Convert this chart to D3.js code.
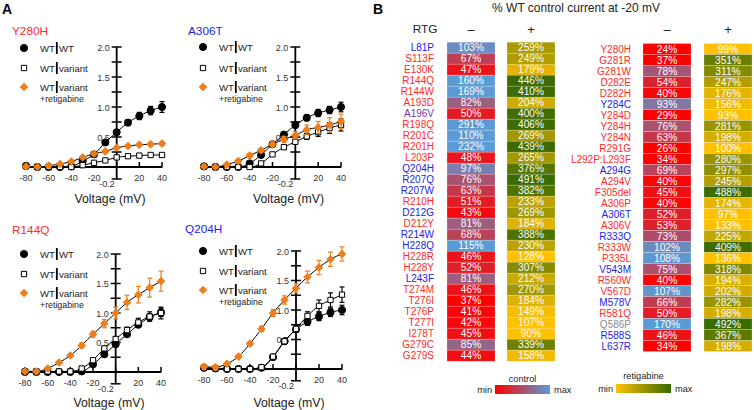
<!DOCTYPE html>
<html><head><meta charset="utf-8">
<script src="https://cdn.jsdelivr.net/npm/d3@7"></script>
<style>body{margin:0;background:#fff}svg{display:block;font-family:"Liberation Sans",Arial,sans-serif}</style>
</head><body><svg id="c" width="754" height="410"></svg>
<script>
// ---------- DATA ----------
const voltages = [-80,-70,-60,-50,-40,-30,-20,-10,0,10,20,30,40];
const xTicks = [-80,-60,-40,-20,0,20,40];
const yTickLabels = [0.5,1.0,1.5,2.0];

const y280h_wt  = [0.02,0.0,0.0,0.0,0.01,0.1,0.21,0.41,0.58,0.74,0.85,0.94,1.0];
const y280h_wtE = [0,0,0,0,0,0.01,0.02,0.03,0.04,0.05,0.06,0.07,0.09];
const y280h_var = [0.01,0.0,0.0,0.0,0.0,0.03,0.07,0.11,0.16,0.18,0.19,0.2,0.2];
const y280h_varE= [0,0,0,0,0,0,0.01,0.01,0.01,0.015,0.015,0.02,0.02];
const y280h_rtg = [0.01,0.0,0.02,0.05,0.09,0.16,0.22,0.26,0.32,0.35,0.37,0.38,0.39];
const y280h_rtgE= [0,0,0,0.01,0.01,0.015,0.02,0.02,0.02,0.025,0.025,0.03,0.03];

const a306t_wt  = [0.01,0.0,0.0,0.0,0.06,0.2,0.38,0.54,0.7,0.82,0.9,0.95,1.0];
const a306t_wtE = [0,0,0,0,0,0.01,0.02,0.03,0.05,0.05,0.06,0.06,0.08];
const a306t_var = [0.01,0.0,0.0,0.0,0.0,0.06,0.21,0.33,0.42,0.51,0.58,0.65,0.7];
const a306t_varE= [0,0,0,0,0,0.01,0.02,0.03,0.04,0.05,0.07,0.09,0.1];
const a306t_rtg = [0.01,0.0,0.04,0.1,0.19,0.28,0.38,0.46,0.53,0.62,0.66,0.7,0.76];
const a306t_rtgE= [0,0,0.01,0.01,0.02,0.03,0.04,0.05,0.06,0.08,0.1,0.12,0.12];

const r144q_wt  = [0.0,0.0,0.0,0.0,0.0,0.01,0.13,0.3,0.47,0.64,0.8,0.93,1.01];
const r144q_wtE = [0,0,0,0,0,0,0.01,0.02,0.03,0.03,0.04,0.06,0.07];
const r144q_var = [0.01,0.01,0.01,0.01,0.01,0.06,0.2,0.4,0.56,0.71,0.84,0.94,1.0];
const r144q_varE= [0,0,0,0,0,0.01,0.02,0.03,0.04,0.05,0.07,0.08,0.1];
const r144q_rtg = [0.01,0.01,0.06,0.16,0.28,0.45,0.64,0.82,1.0,1.18,1.31,1.43,1.54];
const r144q_rtgE= [0,0,0.01,0.02,0.03,0.04,0.05,0.07,0.1,0.12,0.14,0.16,0.17];

const q204h_wt  = [0.02,0.01,0.0,0.0,0.0,0.02,0.2,0.47,0.67,0.8,0.89,0.96,1.0];
const q204h_wtE = [0,0,0,0,0,0,0.01,0.03,0.04,0.06,0.07,0.07,0.08];
const q204h_var = [0.02,0.01,0.0,0.0,0.0,0.03,0.21,0.47,0.68,0.9,1.07,1.17,1.26];
const q204h_varE= [0,0,0,0,0,0.01,0.02,0.03,0.05,0.07,0.1,0.12,0.13];
const q204h_rtg = [0.04,0.03,0.09,0.21,0.43,0.68,0.95,1.17,1.37,1.56,1.72,1.86,1.95];
const q204h_rtgE= [0.01,0.01,0.01,0.02,0.03,0.04,0.06,0.07,0.08,0.1,0.12,0.12,0.12];

const legendLabels = ["WT|WT","WT|variant","WT|variant"];

// Heatmap
const leftVariants = ["L81P","S113F","E130K","R144Q","R144W","A193D","A196V","R198Q","R201C","R201H","L203P","Q204H","R207Q","R207W","R210H","D212G","D212Y","R214W","H228Q","H228R","H228Y","L243F","T274M","T276I","T276P","T277I","I278T","G279C","G279S"];
const leftGroup = ["b","r","r","r","r","r","p","r","r","r","r","b","b","b","r","b","r","b","b","r","r","b","r","r","r","r","r","r","r"];
const leftControl = [103,67,47,160,169,82,50,291,110,232,48,97,76,63,51,43,81,68,115,46,52,81,46,37,41,42,45,85,44];
const leftRTG = [259,249,179,446,410,204,400,406,269,439,265,376,491,382,233,269,184,388,230,128,307,212,270,184,149,107,90,339,158];

const rightVariants = ["Y280H","G281R","G281W","D282E","D282H","Y284C","Y284D","Y284H","Y284N","R291G","L292P:L293F","A294G","A294V","F305del","A306P","A306T","A306V","R333Q","R333W","P335L","V543M","R560W","V567D","M578V","R581Q","Q586P","R588S","L637R"];
const rightGroup = ["r","r","r","r","r","b","r","r","r","r","r","b","r","r","r","b","r","b","r","r","b","r","r","b","r","g","b","b"];
const rightControl = [24,37,78,54,40,93,29,76,63,26,34,69,40,45,40,52,53,73,102,108,75,40,107,66,50,170,46,34];
const rightRTG = [99,351,311,247,176,156,93,281,198,100,280,297,245,488,174,97,133,225,409,136,318,194,202,282,198,492,367,198];

// ---------- DRAW ----------
const svg = d3.select("#c");
const ORANGE = "#ee7d1b";
const groupColor = {r:"#ff2a2a", b:"#2323e6", p:"#7436b0", g:"#8a8a8a"};

svg.append("text").attr("x",2).attr("y",14).attr("font-size",14).attr("font-weight","bold").text("A");
svg.append("text").attr("x",373).attr("y",14).attr("font-size",14).attr("font-weight","bold").text("B");

const panels = [
 {title:"Y280H", tc:"#ff2a2a", tx:12, ty:35, x0:26, x1:162, y0:167, y2:47, lx:24, ly:[48,68,87], wt:y280h_wt, wtE:y280h_wtE, v:y280h_var, vE:y280h_varE, r:y280h_rtg, rE:y280h_rtgE, vl:203},
 {title:"A306T", tc:"#2323e6", tx:188, ty:35, x0:204, x1:341, y0:167, y2:47, lx:203, ly:[47,68,87], wt:a306t_wt, wtE:a306t_wtE, v:a306t_var, vE:a306t_varE, r:a306t_rtg, rE:a306t_rtgE, vl:203},
 {title:"R144Q", tc:"#ff2a2a", tx:12, ty:234, x0:25, x1:161, y0:372, y2:254, lx:24, ly:[254,274,293], wt:r144q_wt, wtE:r144q_wtE, v:r144q_var, vE:r144q_varE, r:r144q_rtg, rE:r144q_rtgE, vl:407},
 {title:"Q204H", tc:"#2323e6", tx:185, ty:233, x0:204, x1:342, y0:369, y2:251, lx:203, ly:[251,271,290], wt:q204h_wt, wtE:q204h_wtE, v:q204h_var, vE:q204h_varE, r:q204h_rtg, rE:q204h_rtgE, vl:407}
];

const sym = {
  circle: d3.symbol().type(d3.symbolCircle).size(40),
  square: d3.symbol().type(d3.symbolSquare).size(28),
  diamond: d3.symbol().type(d3.symbolSquare).size(26)
};
const rot = {circle:0, square:0, diamond:45};

panels.forEach(p => {
  const g = svg.append("g");
  const x = d3.scaleLinear().domain([-80,40]).range([p.x0,p.x1]);
  const y = d3.scaleLinear().domain([0,2]).range([p.y0,p.y2]);
  const ax = x(0);
  g.append("text").attr("x",p.tx).attr("y",p.ty).attr("font-size",11.8).attr("fill",p.tc).text(p.title);
  // x axis
  g.append("line").attr("x1",x(-80)).attr("x2",x(40)).attr("y1",y(0)).attr("y2",y(0)).attr("stroke","#000").attr("stroke-width",1.8);
  xTicks.forEach(t => {
    g.append("line").attr("x1",x(t)).attr("x2",x(t)).attr("y1",y(0)+0.5).attr("y2",y(0)-5).attr("stroke","#000").attr("stroke-width",1.5);
    if (t!==0) g.append("text").attr("x",x(t)).attr("y",y(0)+14).attr("text-anchor","middle").attr("font-size",9).attr("fill","#333").text(t);
  });
  // y axis
  g.append("line").attr("x1",ax).attr("x2",ax).attr("y1",y(-0.2)).attr("y2",y(2)).attr("stroke","#000").attr("stroke-width",1.8);
  d3.range(0,2.001,0.25).concat([-0.2]).forEach(t => {
    g.append("line").attr("x1",ax-5).attr("x2",ax+5).attr("y1",y(t)).attr("y2",y(t)).attr("stroke","#000").attr("stroke-width",1.5);
  });
  yTickLabels.forEach(t => {
    g.append("text").attr("x",ax-7).attr("y",y(t)+3.5).attr("text-anchor","end").attr("font-size",9).attr("fill","#333").text(d3.format(".1f")(t));
  });
  g.append("text").attr("x",ax-2).attr("y",y(-0.2)+8).attr("text-anchor","end").attr("font-size",9).attr("fill","#333").text("-0.2");
  g.append("text").attr("x",(x(-80)+x(40))/2+16).attr("y",p.vl).attr("text-anchor","middle").attr("font-size",12.3).attr("fill","#222").text("Voltage (mV)");

  const line = d3.line().x((d,i)=>x(voltages[i])).y(d=>y(d)).curve(d3.curveMonotoneX);
  const series = [
    {vals:p.wt, err:p.wtE, shape:"circle", fill:"#000", stroke:"#000", ec:"#000"},
    {vals:p.v, err:p.vE, shape:"square", fill:"#fff", stroke:"#000", ec:"#000"},
    {vals:p.r, err:p.rE, shape:"diamond", fill:ORANGE, stroke:ORANGE, ec:ORANGE}
  ];
  series.forEach(s => g.append("path").attr("d",line(s.vals)).attr("fill","none").attr("stroke","#000").attr("stroke-width",1));
  series.forEach(s => {
    s.vals.forEach((v,i) => {
      const e = s.err[i];
      if (e > 0.015) {
        const cx = x(voltages[i]);
        g.append("line").attr("x1",cx).attr("x2",cx).attr("y1",y(v-e)).attr("y2",y(v+e)).attr("stroke",s.ec).attr("stroke-width",1.2);
        [v-e,v+e].forEach(vv => g.append("line").attr("x1",cx-2.5).attr("x2",cx+2.5).attr("y1",y(vv)).attr("y2",y(vv)).attr("stroke",s.ec).attr("stroke-width",1.2));
      }
    });
    g.selectAll(null).data(s.vals).enter().append("path")
      .attr("d",sym[s.shape]).attr("transform",(d,i)=>`translate(${x(voltages[i])},${y(d)}) rotate(${rot[s.shape]})`)
      .attr("fill",s.fill).attr("stroke",s.stroke).attr("stroke-width",1);
  });
  // legend
  const lshapes = ["circle","square","diamond"], lfill=["#000","#fff",ORANGE], lstroke=["#000","#000",ORANGE];
  legendLabels.forEach((lab,i) => {
    const ly = p.ly[i];
    g.append("path").attr("d",sym[lshapes[i]]).attr("transform",`translate(${p.lx},${ly}) rotate(${rot[lshapes[i]]})`).attr("fill",lfill[i]).attr("stroke",lstroke[i]).attr("stroke-width",1);
    const parts = lab.split("|");
    const t1 = g.append("text").attr("x",p.lx+16).attr("y",ly+3.5).attr("font-size",9.6).attr("fill","#222").text(parts[0]);
    const w1 = t1.node().getComputedTextLength();
    g.append("rect").attr("x",p.lx+16+w1+1).attr("y",ly-6).attr("width",1.8).attr("height",12).attr("fill","#000");
    g.append("text").attr("x",p.lx+16+w1+4).attr("y",ly+3.5).attr("font-size",9.6).attr("fill","#222").text(parts[1]);
  });
  g.append("text").attr("x",p.lx+16).attr("y",p.ly[2]+15).attr("font-size",8.8).attr("fill","#222").text("+retigabine");
});

// ---------- Heatmap ----------
const ctrlScale = d3.scaleLinear().domain([38,110]).range(["#ff0000","#5b9bd5"]).clamp(true);
const rtgScale = d3.scaleLinear().domain([138,414]).range(["#ffc000","#3a6a00"]).clamp(true);

svg.append("text").attr("x",576).attr("y",12).attr("text-anchor","middle").attr("font-size",12).attr("fill","#222").text("% WT control current at -20 mV");
svg.append("text").attr("x",425).attr("y",33).attr("text-anchor","middle").attr("font-size",11.8).attr("fill","#222").text("RTG");

function drawCol(names, groups, ctrl, rtg, labelX, cx, rx, top) {
  const rowH = 11;
  const yb = d3.scaleBand().domain(names).range([top, top + rowH*names.length]);
  const g = svg.append("g");
  g.selectAll(null).data(names).enter().append("text")
    .attr("x",labelX).attr("y",d=>yb(d)+yb.bandwidth()/2+3.6).attr("text-anchor","end").attr("font-size",10)
    .attr("fill",(d,i)=>groupColor[groups[i]]).text(d=>d);
  [[ctrl,cx,ctrlScale],[rtg,rx,rtgScale]].forEach(([vals,x0,sc]) => {
    g.selectAll(null).data(vals).enter().append("rect")
      .attr("x",x0).attr("y",(d,i)=>yb(names[i])).attr("width",48).attr("height",yb.bandwidth())
      .attr("fill",d=>sc(d)).attr("stroke","#fff").attr("stroke-opacity",0.35).attr("stroke-width",0.6);
    g.selectAll(null).data(vals).enter().append("text")
      .attr("x",x0+24).attr("y",(d,i)=>yb(names[i])+yb.bandwidth()/2+3.7).attr("text-anchor","middle")
      .attr("font-size",10.2).attr("fill","#fff").text(d=>d+"%");
  });
  svg.append("text").attr("x",cx+24).attr("y",34).attr("text-anchor","middle").attr("font-size",13).attr("fill","#222").text("–");
  svg.append("text").attr("x",rx+24).attr("y",34).attr("text-anchor","middle").attr("font-size",13).attr("fill","#222").text("+");
}
drawCol(leftVariants, leftGroup, leftControl, leftRTG, 434, 447, 507, 42.2);
drawCol(rightVariants, rightGroup, rightControl, rightRTG, 631, 643, 704, 43.5);

// legends
const defs = svg.append("defs");
function grad(id, c0, c1) {
  const lg = defs.append("linearGradient").attr("id",id);
  lg.append("stop").attr("offset","0%").attr("stop-color",c0);
  lg.append("stop").attr("offset","100%").attr("stop-color",c1);
}
grad("gc","#ff0000","#5b9bd5");
grad("gr","#ffc000","#3a6a00");
function legend(id, title, x0, x1, ytop, ttl) {
  svg.append("rect").attr("x",x0).attr("y",ytop).attr("width",x1-x0).attr("height",9).attr("fill",`url(#${id})`);
  svg.append("text").attr("x",(x0+x1)/2).attr("y",ttl).attr("text-anchor","middle").attr("font-size",9.2).attr("fill","#222").text(title);
  svg.append("text").attr("x",x0-3).attr("y",ytop+7.5).attr("text-anchor","end").attr("font-size",9.2).attr("fill","#222").text("min");
  svg.append("text").attr("x",x1+4).attr("y",ytop+7.5).attr("font-size",9.2).attr("fill","#222").text("max");
}
legend("gc","control",495,550,385,382);
legend("gr","retigabine",616,671,384,379);
</script></body></html>
